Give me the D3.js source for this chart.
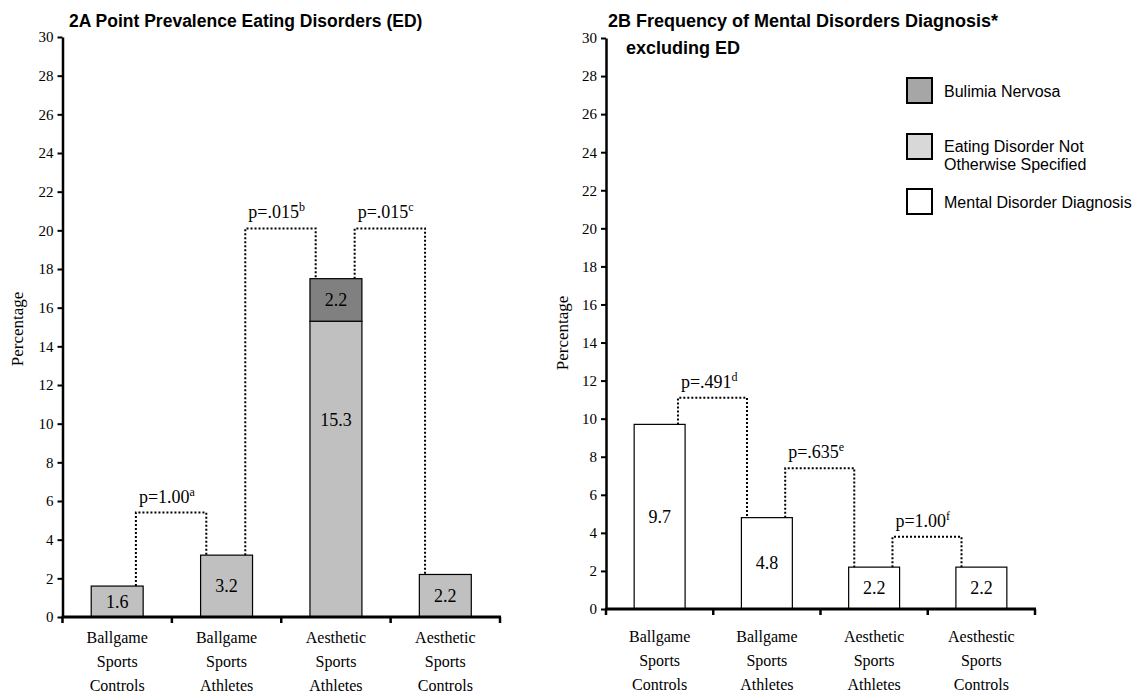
<!DOCTYPE html>
<html>
<head>
<meta charset="utf-8">
<script src="https://cdn.jsdelivr.net/npm/d3@7"></script>
<style>
  body { margin: 0; background: #ffffff; }
  svg { display: block; }
</style>
</head>
<body>
<svg id="chart" width="1136" height="700"></svg>
<script>
// ---- data ----------------------------------------------------------
const categoriesA = ["Ballgame|Sports|Controls", "Ballgame|Sports|Athletes", "Aesthetic|Sports|Athletes", "Aesthetic|Sports|Controls"];
const categoriesB = ["Ballgame|Sports|Controls", "Ballgame|Sports|Athletes", "Aesthetic|Sports|Athletes", "Aesthestic|Sports|Controls"];

// 2A: eating disorders point prevalence (%)
const ednosA   = [1.6, 3.2, 15.3, 2.2];   // Eating Disorder Not Otherwise Specified
const bulimiaA = [0, 0, 2.2, 0];          // Bulimia Nervosa

// 2B: mental disorder diagnosis, excluding ED (%)
const mentalB = [9.7, 4.8, 2.2, 2.2];

const yTicks = [0, 2, 4, 6, 8, 10, 12, 14, 16, 18, 20, 22, 24, 26, 28, 30];

// pairwise comparisons: bar index pair, bracket height (%), p value, footnote
const comparisonsA = [
  { from: 0, to: 1, level: 5.4,  p: "p=1.00", note: "a" },
  { from: 1, to: 2, level: 20.1, p: "p=.015", note: "b" },
  { from: 2, to: 3, level: 20.1, p: "p=.015", note: "c" }
];
const comparisonsB = [
  { from: 0, to: 1, level: 11.1, p: "p=.491", note: "d" },
  { from: 1, to: 2, level: 7.4,  p: "p=.635", note: "e" },
  { from: 2, to: 3, level: 3.8,  p: "p=1.00", note: "f" }
];

const legendLabels = ["Bulimia Nervosa", "Eating Disorder Not|Otherwise Specified", "Mental Disorder Diagnosis"];

// ---- styling --------------------------------------------------------
const SERIF = "'Liberation Serif', 'Times New Roman', serif";
const SANS = "'Liberation Sans', Arial, sans-serif";
const fill = { ednos: "#c0c0c0", bulimia: "#808080", mental: "#ffffff" };
const legendFill = ["#a6a6a6", "#d8d8d8", "#ffffff"];

const svg = d3.select("#chart");

function drawPanel(cfg) {
  const g = svg.append("g");
  const x = d3.scaleBand().domain(d3.range(cfg.categories.length)).range(cfg.xRange).padding(0);
  const y = d3.scaleLinear().domain([0, 30]).range(cfg.yRange);
  const barW = x.step() * 0.475;
  const cx = i => x(i) + x.bandwidth() / 2;

  // stacked series
  const rows = cfg.categories.map((c, i) => {
    const r = { i };
    cfg.keys.forEach(k => { r[k] = cfg.series[k][i]; });
    return r;
  });
  const stacked = d3.stack().keys(cfg.keys)(rows);
  const totals = rows.map(r => d3.sum(cfg.keys, k => r[k]));

  stacked.forEach(layer => {
    const segs = layer.filter(d => d[1] - d[0] > 0);
    g.selectAll(null).data(segs).enter().append("rect")
      .attr("x", d => cx(d.data.i) - barW / 2)
      .attr("y", d => y(d[1]))
      .attr("width", barW)
      .attr("height", d => y(d[0]) - y(d[1]))
      .attr("fill", fill[layer.key])
      .attr("stroke", "#000")
      .attr("stroke-width", 1.2);

    // value labels inside each segment (tall segments carry it higher up)
    g.selectAll(null).data(segs).enter().append("text")
      .attr("x", d => cx(d.data.i))
      .attr("y", d => {
        const h = d[1] - d[0];
        const v = h > 12 ? d[0] + h * 2 / 3 : (d[0] + d[1]) / 2;
        return y(v);
      })
      .attr("dy", "0.34em")
      .attr("text-anchor", "middle")
      .style("font-family", SERIF)
      .style("font-size", "18px")
      .attr("fill", "#000")
      .text(d => (d[1] - d[0]).toFixed(1));
  });

  // y axis
  const ya = g.append("g")
    .attr("transform", `translate(${cfg.xRange[0]},0)`)
    .call(d3.axisLeft(y).tickValues(yTicks).tickSize(5).tickSizeOuter(0).tickPadding(4));
  ya.select(".domain").attr("stroke", "#000").attr("stroke-width", 2.5);
  ya.selectAll(".tick line").attr("stroke", "#000").attr("stroke-width", 2);
  ya.selectAll(".tick text").style("font-family", SERIF).style("font-size", "15px").attr("fill", "#000");

  // x axis with boundary ticks
  const y0 = y(0);
  const bounds = d3.range(cfg.categories.length + 1).map(i => cfg.xRange[0] + i * x.step());
  g.append("line")
    .attr("x1", cfg.xRange[0] - 1).attr("x2", cfg.xRange[1] + 1)
    .attr("y1", y0).attr("y2", y0)
    .attr("stroke", "#000").attr("stroke-width", 3);
  g.selectAll(null).data(bounds).enter().append("line")
    .attr("x1", d => d).attr("x2", d => d)
    .attr("y1", y0).attr("y2", y0 + 6)
    .attr("stroke", "#000").attr("stroke-width", 2.5);

  // category labels
  const lab = g.selectAll(null).data(cfg.categories).enter().append("text")
    .attr("text-anchor", "middle")
    .style("font-family", SERIF)
    .style("font-size", "16px")
    .attr("fill", "#000");
  lab.each(function(c, i) {
    const t = d3.select(this);
    c.split("|").forEach((line, k) => {
      t.append("tspan").attr("x", cx(i)).attr("y", y0 + cfg.labelOffset + k * 24).text(line);
    });
  });

  // y axis title
  g.append("text")
    .attr("transform", `translate(${cfg.yTitle[0]},${cfg.yTitle[1]}) rotate(-90)`)
    .attr("text-anchor", "middle")
    .style("font-family", SERIF)
    .style("font-size", "17px")
    .attr("fill", "#000")
    .text("Percentage");

  // comparison brackets
  cfg.comparisons.forEach(c => {
    const xa = cx(c.from) + barW * 0.36;
    const xb = cx(c.to) - barW * 0.39;
    const yl = y(c.level);
    g.append("path")
      .attr("d", `M${xa},${y(totals[c.from])}V${yl}H${xb}V${y(totals[c.to])}`)
      .attr("fill", "none")
      .attr("stroke", "#000")
      .attr("stroke-width", 2)
      .attr("stroke-dasharray", "2,2");
    const t = g.append("text")
      .attr("x", xa + 3)
      .attr("y", yl - 10)
      .style("font-family", SERIF)
      .style("font-size", "18px")
      .attr("fill", "#000");
    t.append("tspan").text(c.p);
    t.append("tspan").attr("dy", -7).style("font-size", "12px").text(c.note);
  });

  // title
  const title = g.append("text")
    .style("font-family", SANS)
    .style("font-weight", "bold")
    .style("font-size", cfg.titleSize)
    .attr("fill", "#000");
  cfg.title.forEach((line, k) => {
    title.append("tspan").attr("x", cfg.titlePos[k][0]).attr("y", cfg.titlePos[k][1]).text(line);
  });
}

drawPanel({
  categories: categoriesA,
  keys: ["ednos", "bulimia"],
  series: { ednos: ednosA, bulimia: bulimiaA },
  xRange: [62.5, 500],
  yRange: [617, 37],
  comparisons: comparisonsA,
  labelOffset: 26,
  yTitle: [23, 329],
  title: ["2A Point Prevalence Eating Disorders (ED)"],
  titleSize: "17.5px",
  titlePos: [[69, 27]]
});

drawPanel({
  categories: categoriesB,
  keys: ["mental"],
  series: { mental: mentalB },
  xRange: [606, 1035],
  yRange: [609, 38],
  comparisons: comparisonsB,
  labelOffset: 33,
  yTitle: [568, 333],
  title: ["2B Frequency of Mental Disorders Diagnosis*", "excluding ED"],
  titleSize: "18px",
  titlePos: [[608, 27], [626, 54]]
});

// legend
const legend = svg.append("g").attr("transform", "translate(907,78)");
const legendRows = [0, 56, 111];
legendLabels.forEach((label, i) => {
  const row = legend.append("g").attr("transform", `translate(0,${legendRows[i]})`);
  row.append("rect")
    .attr("width", 25).attr("height", 25)
    .attr("fill", legendFill[i])
    .attr("stroke", "#000").attr("stroke-width", 2);
  const lines = label.split("|");
  const t = row.append("text")
    .style("font-family", SANS)
    .style("font-size", "16px")
    .attr("fill", "#000");
  lines.forEach((line, k) => {
    t.append("tspan").attr("x", 37).attr("y", 19 + (lines.length > 1 ? -1 : 0) + k * 18).text(line);
  });
});
</script>
</body>
</html>
